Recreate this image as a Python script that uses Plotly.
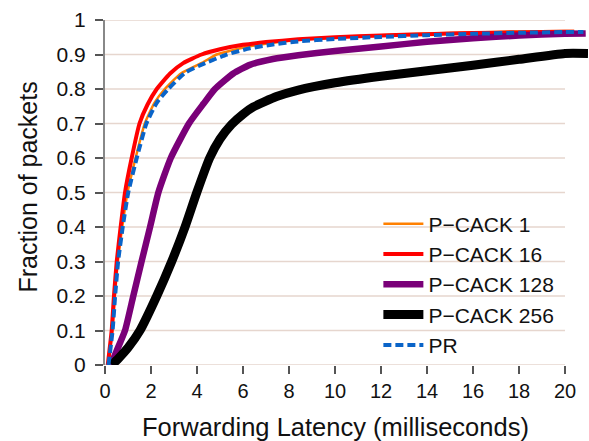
import plotly.graph_objects as go

# ---- data ----
x_pcack1 = [0.15, 0.32, 0.43, 0.56, 0.75, 0.98, 1.33, 1.73, 2.15, 2.6, 3.3, 4.28, 4.85, 5.5, 6.3, 7.3, 8.4, 10, 12, 14, 16, 18, 20, 20.4]
y_pcack1 = [0, 0.1, 0.2, 0.3, 0.4, 0.5, 0.6, 0.7, 0.76, 0.8, 0.845, 0.878, 0.9, 0.912, 0.924, 0.934, 0.942, 0.95, 0.956, 0.961, 0.964, 0.967, 0.968, 0.968]

x_pcack16 = [0.12, 0.29, 0.39, 0.51, 0.68, 0.87, 1.16, 1.5, 1.85, 2.25, 2.83, 3.4, 4.2, 5.0, 6.0, 7.0, 8.4, 10, 12, 14, 16, 18, 20, 20.4]
y_pcack16 = [0, 0.1, 0.2, 0.3, 0.4, 0.5, 0.6, 0.7, 0.755, 0.8, 0.845, 0.875, 0.9, 0.915, 0.928, 0.936, 0.944, 0.95, 0.955, 0.959, 0.962, 0.964, 0.966, 0.966]

x_pcack128 = [0.25, 0.5, 0.87, 1.23, 1.59, 1.96, 2.32, 2.86, 3.65, 4.28, 4.78, 5.58, 6.3, 7.3, 8.4, 10, 12, 14, 16, 18, 20, 20.9]
y_pcack128 = [0, 0.04, 0.1, 0.2, 0.3, 0.4, 0.5, 0.6, 0.7, 0.757, 0.8, 0.845, 0.87, 0.887, 0.898, 0.91, 0.923, 0.937, 0.947, 0.955, 0.96, 0.961]

x_pcack256 = [0.3, 0.6, 1.0, 1.52, 2.25, 2.9, 3.48, 3.99, 4.55, 5.0, 5.5, 6.0, 6.45, 7.46, 8.4, 10, 12, 14, 16, 18, 20, 21]
y_pcack256 = [0, 0.02, 0.05, 0.1, 0.2, 0.3, 0.4, 0.5, 0.6, 0.655, 0.697, 0.727, 0.748, 0.778, 0.797, 0.818, 0.837, 0.853, 0.869, 0.886, 0.903, 0.903]

x_pr = [0.15, 0.33, 0.44, 0.57, 0.77, 1.01, 1.38, 1.8, 2.25, 2.75, 3.5, 4.28, 5.3, 6.3, 7.3, 8.4, 10, 12, 14, 16, 18, 20, 20.8]
y_pr = [0, 0.1, 0.2, 0.3, 0.4, 0.5, 0.6, 0.7, 0.76, 0.8, 0.848, 0.873, 0.9, 0.918, 0.929, 0.938, 0.945, 0.951, 0.956, 0.96, 0.963, 0.965, 0.965]

x_ticks = list(range(0, 21, 2))
y_ticks = [round(0.1 * i, 1) for i in range(11)]
y_tick_labels = ["0", "0.1", "0.2", "0.3", "0.4", "0.5", "0.6", "0.7", "0.8", "0.9", "1"]

x_title = "Forwarding Latency (milliseconds)"
y_title = "Fraction of packets"

FONT = "Liberation Sans, Arial, sans-serif"

fig = go.Figure()

series = [
    ("P\u2212CACK 1", x_pcack1, y_pcack1, dict(color="#FF8000", width=2.5)),
    ("P\u2212CACK 16", x_pcack16, y_pcack16, dict(color="#FF0000", width=4)),
    ("P\u2212CACK 128", x_pcack128, y_pcack128, dict(color="#7A0078", width=6.5)),
    ("P\u2212CACK 256", x_pcack256, y_pcack256, dict(color="#000000", width=9)),
    ("PR", x_pr, y_pr, dict(color="#0A64C8", width=4, dash="8px,4px")),
]
for name, xs, ys, line in series:
    fig.add_trace(go.Scatter(x=xs, y=ys, name=name, mode="lines",
                             line=dict(shape="spline", smoothing=0.5, **line)))

# gridlines only across 0..20
for yv in y_ticks:
    fig.add_shape(type="line", xref="x", yref="y", x0=0, x1=20, y0=yv, y1=yv,
                  line=dict(color="#E6D6CE", width=1.5), layer="below")

# axis titles (centred on the 0..20 span like the original)
fig.add_annotation(text=x_title, xref="x", yref="paper", x=10, y=0,
                   xanchor="center", yanchor="middle", yshift=-62, showarrow=False,
                   font=dict(size=25.5))
fig.add_annotation(text=y_title, xref="paper", yref="paper", x=0, y=0.5,
                   xanchor="center", yanchor="middle", xshift=-78, yshift=5,
                   textangle=-90, showarrow=False, font=dict(size=25))

fig.update_layout(
    width=589, height=441,
    margin=dict(l=105, r=1, t=20, b=76),
    paper_bgcolor="white", plot_bgcolor="white",
    font=dict(family=FONT, size=21, color="#111111"),
    showlegend=True,
    legend=dict(x=0.566, y=0.468, xanchor="left", yanchor="top",
                bgcolor="rgba(0,0,0,0)", font=dict(size=21),
                tracegroupgap=0, itemwidth=40),
    xaxis=dict(range=[0, 21], tickvals=x_ticks, showgrid=False, zeroline=False,
               showline=False, ticks="outside", ticklen=8, tickwidth=1.5,
               tickcolor="#555555", tickfont=dict(size=20)),
    yaxis=dict(range=[0, 1], tickvals=y_ticks, ticktext=y_tick_labels, showgrid=False,
               zeroline=False, showline=True, linecolor="#888888", linewidth=2,
               ticks="outside", ticklen=8, tickwidth=1.5, tickcolor="#555555",
               tickfont=dict(size=21), ticklabelstandoff=5),
)

fig.write_html("out.html")
